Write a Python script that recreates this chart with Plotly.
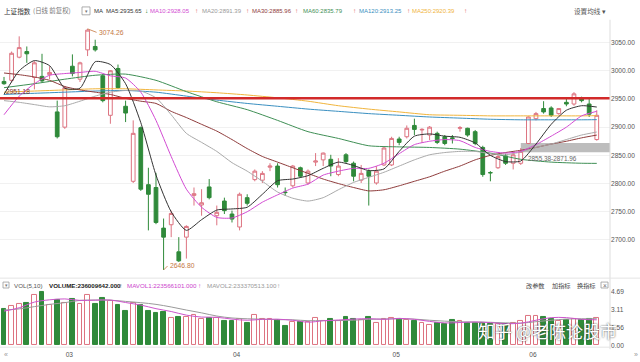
import plotly.graph_objects as go

W, H = 640, 362

# ---------------- data ----------------
idx = list(range(1, 80))
opens = [2981, 2983, 3024, 3034, 2988, 2990, 2993, 2927, 2900, 3008,
         2985, 3037, 3043, 2991, 2921, 3004, 2937, 2804, 2899, 2798,
         2793, 2721, 2727, 2679, 2705, 2779, 2762, 2794, 2743, 2769,
         2746, 2723, 2775, 2807, 2806, 2829, 2831, 2785, 2796, 2828,
         2801, 2838, 2842, 2843, 2816, 2851, 2836, 2806, 2822, 2801,
         2833, 2833, 2879, 2883, 2903, 2895, 2886, 2889, 2883, 2881,
         2898, 2898, 2892, 2864, 2819.5, 2828, 2849, 2836, 2836, 2871,
         2915, 2933, 2934, 2924, 2944, 2941, 2952, 2941, 2878]
highs = [2989, 3034, 3061, 3043, 3017, 3030, 3008, 2947, 2973, 3029,
         3016, 3074.26, 3055, 2994, 3001, 3011, 2947, 2912, 2901, 2828,
         2819, 2738, 2752, 2705, 2726, 2793, 2790, 2808, 2761, 2775,
         2752, 2784, 2781, 2825, 2822, 2836, 2836, 2793, 2833, 2830,
         2825, 2854, 2855, 2851, 2845, 2854, 2839, 2833, 2825, 2831,
         2865, 2883, 2883, 2903, 2915, 2898, 2902, 2892, 2886, 2886,
         2902, 2899, 2895, 2867, 2822, 2851, 2853, 2857, 2863, 2919,
         2927, 2946, 2937, 2934, 2950, 2962, 2954, 2950, 2930]
lows = [2975, 2979, 3022, 3014, 2967, 2979, 2985, 2880, 2897, 2990,
        2980, 3026, 3034, 2944, 2906, 2968, 2909, 2801, 2787, 2717,
        2728, 2646.80, 2705, 2661, 2667, 2761, 2743, 2772, 2726, 2746,
        2731, 2717, 2761, 2804, 2801, 2822, 2793, 2778, 2793, 2810,
        2798, 2831, 2831, 2813, 2813, 2836, 2804, 2801, 2761, 2798,
        2831, 2831, 2868, 2880, 2886, 2872, 2877, 2870, 2868, 2871,
        2892, 2883, 2868, 2812, 2804, 2826, 2833, 2825, 2833, 2870,
        2912, 2924, 2918, 2922, 2937, 2938, 2944, 2918, 2876]
closes = [2977, 3031, 3041, 3030, 3014, 2982, 2997, 2883, 2970, 2995,
          3014, 3072, 3037, 2947, 3000, 2970, 2925, 2889, 2790, 2781,
          2731, 2705, 2747, 2663, 2724, 2782, 2766, 2775, 2749, 2752,
          2737, 2781, 2765, 2822, 2818, 2831, 2798, 2784, 2831, 2813,
          2822, 2840, 2854, 2831, 2831, 2839, 2813, 2818, 2813, 2822,
          2863, 2880, 2873, 2898, 2896, 2896, 2900, 2873, 2871, 2880,
          2899, 2886, 2871, 2816, 2819, 2848, 2836, 2851, 2857, 2918,
          2924, 2927, 2921, 2933, 2941, 2959, 2947, 2923, 2921]
volumes = [3.16, 3.45, 3.60, 3.68, 4.46, 4.69, 3.54, 4.03, 3.68, 4.09,
           3.60, 4.46, 3.65, 4.17, 3.94, 3.54, 3.01, 3.68, 3.54, 3.01,
           2.87, 2.96, 2.43, 2.49, 2.49, 2.67, 2.29, 2.43, 2.38, 2.14,
           2.14, 2.29, 1.94, 2.67, 2.35, 2.29, 2.20, 1.71, 2.06, 2.06,
           2.06, 2.43, 2.14, 2.29, 2.14, 2.49, 2.35, 2.23, 2.49, 2.00,
           2.29, 2.43, 2.35, 2.23, 2.14, 2.00, 1.77, 2.00, 1.85, 2.23,
           2.14, 2.00, 1.94, 2.00, 1.85, 1.85, 1.85, 2.00, 2.14, 2.58,
           2.58, 2.49, 2.35, 2.14, 2.20, 2.35, 2.20, 2.29, 2.36]

ma_fast_idx = list(range(1, 80, 2))
ma5 = [2958, 3000, 3018, 3009, 2969, 2969, 3016, 3011, 2977, 2908,
       2815, 2750, 2717, 2736, 2753, 2755, 2758, 2781, 2805, 2808,
       2814, 2827, 2838, 2832, 2823, 2826, 2857, 2884, 2888, 2884,
       2882, 2872, 2850, 2839, 2840, 2870, 2905, 2930, 2938, 2935.65]
ma10 = [2922, 2955, 2977, 2992, 2995, 2997, 2999, 2991, 2987, 2962,
        2912, 2848, 2790, 2758, 2740, 2739, 2750, 2767, 2780, 2792,
        2799, 2815, 2822, 2827, 2827, 2836, 2853, 2869, 2875, 2878,
        2876, 2864, 2857, 2854, 2857, 2869, 2884, 2900, 2920, 2928.05]
ma20 = [2947, 2944, 2940, 2936, 2938, 2946, 2955, 2962, 2965, 2964,
        2952, 2922, 2889, 2873, 2857, 2837, 2822, 2804, 2785, 2774,
        2769, 2775, 2789, 2802, 2811, 2820, 2831, 2842, 2851, 2855,
        2857, 2857, 2853, 2851, 2856, 2864, 2870, 2878, 2886, 2891.39]
ma30 = [2996, 2993, 2989, 2983, 2972, 2966, 2962, 2958, 2951, 2946,
        2942, 2928, 2917, 2905, 2893, 2878, 2862, 2848, 2838, 2828,
        2818, 2808, 2800, 2793, 2787, 2789, 2796, 2804, 2812, 2822,
        2831, 2842, 2850, 2855, 2859, 2864, 2870, 2875, 2881, 2885.96]
ma_slow_idx = [1, 5, 9, 13, 17, 21, 25, 29, 33, 37, 41, 45, 49, 53, 57, 61, 65, 69, 73, 77, 79]
ma60 = [2970, 2977, 2985, 2992, 2994, 2983, 2963, 2945, 2931, 2912, 2892,
        2880, 2867, 2865, 2864, 2861, 2854, 2843, 2838, 2836, 2835.79]
ma120 = [2958, 2960, 2962, 2964, 2965, 2962, 2955, 2948, 2942, 2937, 2932,
         2928, 2924, 2921, 2918, 2916, 2914, 2913, 2913, 2913, 2913.25]
ma250 = [2962, 2964, 2966, 2968, 2968, 2966, 2964, 2961, 2957, 2952, 2946,
         2938, 2932, 2927, 2922, 2921, 2920, 2920, 2920, 2920, 2920.39]

mavol1 = [3.00, 3.30, 3.80, 4.00, 4.08, 3.95, 3.97, 3.98, 3.76, 3.54,
          3.22, 2.97, 2.65, 2.48, 2.46, 2.30, 2.20, 2.28, 2.29, 2.20,
          2.03, 2.15, 2.22, 2.30, 2.34, 2.28, 2.36, 2.28, 2.10, 1.96,
          2.00, 2.05, 1.99, 1.90, 1.94, 2.20, 2.43, 2.43, 2.28, 2.236]
mavol2 = [3.10, 3.20, 3.40, 3.60, 3.75, 3.95, 3.98, 3.97, 3.86, 3.75,
          3.60, 3.37, 3.10, 2.85, 2.57, 2.40, 2.33, 2.29, 2.25, 2.24,
          2.16, 2.17, 2.17, 2.20, 2.28, 2.31, 2.33, 2.30, 2.20, 2.12,
          2.06, 2.03, 2.02, 1.96, 1.94, 2.07, 2.20, 2.30, 2.33, 2.334]

month_labels = ["03", "04", "05", "06"]
month_first_idx = [9, 31, 52, 70]
price_ticks = [2700, 2750, 2800, 2850, 2900, 2950, 3000, 3050]
vol_ticks = [0.00, 1.56, 3.11, 4.69]

line_price = 2951.18
zone_low, zone_high = 2855.38, 2871.96
zone_start_idx = 69
hi_idx, hi_val = 12, 3074.26
lo_idx, lo_val = 22, 2646.80

# ---------------- style ----------------
UP = "#dd7380"
DN = "#2f8a3a"
C_MA5, C_MA10, C_MA20, C_MA30 = "#333333", "#d24bd2", "#a9a9a9", "#8e3b3b"
C_MA60, C_MA120, C_MA250 = "#3f8f55", "#3a8fc0", "#f0b43c"
LAT = "Liberation Sans, Arial, Noto Sans CJK SC"
CJK = "Noto Sans CJK SC"

def px(x):
    return x / W

def py(y):
    return 1 - y / H

XR = [0.474, 80.74]
PLOT_R = 610

fig = go.Figure()

fig.add_trace(go.Candlestick(
    x=idx, open=opens, high=highs, low=lows, close=closes,
    increasing=dict(line=dict(color=UP, width=1), fillcolor="white"),
    decreasing=dict(line=dict(color=DN, width=1), fillcolor=DN),
    whiskerwidth=0, xaxis="x", yaxis="y", showlegend=False, hoverinfo="skip"))

for xs, ys, col in [(ma_slow_idx, ma250, C_MA250), (ma_slow_idx, ma120, C_MA120),
                    (ma_slow_idx, ma60, C_MA60), (ma_fast_idx, ma30, C_MA30),
                    (ma_fast_idx, ma20, C_MA20), (ma_fast_idx, ma10, C_MA10),
                    (ma_fast_idx, ma5, C_MA5)]:
    fig.add_trace(go.Scatter(x=xs, y=ys, mode="lines",
                             line=dict(color=col, width=1, shape="spline", smoothing=0.6),
                             xaxis="x", yaxis="y", showlegend=False, hoverinfo="skip"))

up_flags = [c >= o for o, c in zip(opens, closes)]
fig.add_trace(go.Bar(
    x=idx, y=volumes, width=0.64,
    marker=dict(color=["white" if u else DN for u in up_flags],
                line=dict(color=[UP if u else DN for u in up_flags], width=1)),
    xaxis="x2", yaxis="y2", showlegend=False, hoverinfo="skip"))
fig.add_trace(go.Scatter(x=ma_fast_idx, y=mavol2, mode="lines",
                         line=dict(color="#9a9a9a", width=1, shape="spline"),
                         xaxis="x2", yaxis="y2", showlegend=False, hoverinfo="skip"))
fig.add_trace(go.Scatter(x=ma_fast_idx, y=mavol1, mode="lines",
                         line=dict(color="#cc55cc", width=1, shape="spline"),
                         xaxis="x2", yaxis="y2", showlegend=False, hoverinfo="skip"))

main_top, main_bot = 18, 275
vol_top, vol_bot = 292, 348
p_top = 2950 + (98.3 - main_top) / 0.572
p_bot = 2950 - (main_bot - 98.3) / 0.572

fig.update_layout(
    width=W, height=H, margin=dict(l=0, r=0, t=0, b=0),
    paper_bgcolor="white", plot_bgcolor="white",
    font=dict(family=LAT, size=7, color="#555"),
    xaxis=dict(domain=[0, px(PLOT_R)], range=XR, showticklabels=False, showgrid=False,
               zeroline=False, rangeslider=dict(visible=False), fixedrange=True),
    yaxis=dict(domain=[py(main_bot), py(main_top)], range=[p_bot, p_top], side="right",
               tickvals=price_ticks, ticktext=[f"{v:.2f}" for v in price_ticks],
               tickfont=dict(size=6.6, color="#555"), gridcolor="#f1f1f1", gridwidth=1,
               zeroline=False, ticks="", ticklen=0, showline=False),
    xaxis2=dict(domain=[0, px(PLOT_R)], range=XR, anchor="y2", matches="x",
                tickvals=[m + 0.6 for m in month_first_idx], ticktext=month_labels,
                tickfont=dict(size=6.6, color="#555"), showgrid=False, zeroline=False,
                ticks="", ticklen=0, ticklabelstandoff=4, showline=False),
    yaxis2=dict(domain=[py(vol_bot), py(vol_top)], range=[0, (vol_bot - vol_top) / 11.5],
                side="right", tickvals=vol_ticks, ticktext=[f"{v:.2f}" for v in vol_ticks],
                tickfont=dict(size=6.6, color="#555"), showgrid=False, zeroline=False,
                ticks="", ticklen=0, anchor="x2"),
    bargap=0,
)

shapes = [
    dict(type="rect", xref="x", yref="y", x0=zone_start_idx, x1=XR[1], y0=zone_low, y1=zone_high,
         fillcolor="#bdbdbd", line=dict(width=0), layer="below"),
    dict(type="line", xref="paper", yref="y", x0=0, x1=px(PLOT_R), y0=line_price, y1=line_price,
         line=dict(color="#d22a2a", width=2.4)),
    dict(type="line", xref="paper", yref="paper", x0=px(PLOT_R), x1=px(PLOT_R), y0=py(352), y1=py(18),
         line=dict(color="#dddddd", width=1)),
    dict(type="line", xref="paper", yref="paper", x0=0, x1=1, y0=py(280), y1=py(280),
         line=dict(color="#e4e4e4", width=1)),
    dict(type="line", xref="paper", yref="paper", x0=0, x1=px(PLOT_R), y0=py(350), y1=py(350),
         line=dict(color="#e4e4e4", width=1)),
    dict(type="rect", xref="paper", yref="paper", x0=px(82), x1=px(90), y0=py(13), y1=py(5),
         line=dict(color="#999", width=0.8)),
    dict(type="rect", xref="paper", yref="paper", x0=px(3), x1=px(9), y0=py(290), y1=py(284),
         line=dict(color="#999", width=0.8)),
    dict(type="rect", xref="paper", yref="paper", x0=px(601), x1=px(608), y0=py(290), y1=py(284),
         line=dict(color="#999", width=0.8)),
]
fig.update_layout(shapes=shapes)

ann = []

def txt(x, y, s, color="#555", size=6.2, family=LAT, anchor="left", **kw):
    ann.append(dict(x=px(x), y=py(y), xref="paper", yref="paper", text=s, showarrow=False,
                    xanchor=anchor, yanchor="middle",
                    font=dict(size=size, color=color, family=family), **kw))

RED_ARROW = "#e06060"
GREEN_ARROW = "#2f8a3a"
hy = 9
txt(2, hy, "上证指数", "#333", 6.6, CJK)
txt(31, hy, "(日线 前复权)", "#777", 6.4, CJK)
txt(86, hy, "▾", "#777", 5, anchor="center")
txt(92, hy, "MA", "#333", 6.0)
heads = [("MA5:2935.65", 104, C_MA5, "↓", 143, GREEN_ARROW),
         ("MA10:2928.05", 148, C_MA10, "↑", 193, RED_ARROW),
         ("MA20:2891.39", 200, "#999", "↑", 244, RED_ARROW),
         ("MA30:2885.96", 250, C_MA30, "↑", 293, RED_ARROW),
         ("MA60:2835.79", 301, C_MA60, "↑", 351, RED_ARROW),
         ("MA120:2913.25", 357, C_MA120, "↑", 405, RED_ARROW),
         ("MA250:2920.39", 410, C_MA250, "↑", 462, RED_ARROW)]
for s, x, c, a, ax_, ac in heads:
    txt(x, hy, s, c, 6.0)
    txt(ax_, hy, a, ac, 6.5)
txt(572, hy, "设置均线 ▾", "#555", 6.6, CJK)

vy = 287
txt(6, vy, "▾", "#777", 5, anchor="center")
txt(12, vy, "VOL(5,10)", "#555")
txt(47, vy, "<b>VOLUME:236009642.000</b>", "#222")
txt(117, vy, "↑", "#333", 6.5)
txt(125, vy, "MAVOL1:223566101.000", "#cc44cc")
txt(196, vy, "↑", "#cc44cc", 6.5)
txt(205, vy, "MAVOL2:233370513.100", "#999")
txt(275, vy, "↑", "#999", 6.5)
txt(524, vy, "改参数", "#444", 6.2, CJK)
txt(550, vy, "加指标", "#444", 6.2, CJK)
txt(575, vy, "换指标", "#444", 6.2, CJK)
txt(604.5, vy, "×", "#666", 6.5, anchor="center")
txt(2, 357, "«", "#999", 7)
txt(632, 357, "»", "#999", 7)

txt(4, 91, "2951.18", "#7a3030", 6.6)
ann.append(dict(x=zone_start_idx + 0.7, y=zone_low, xref="x", yref="y", text="2855.38-2871.96",
                showarrow=False, xanchor="left", yanchor="top", yshift=-1,
                font=dict(size=6.4, color="#666", family=LAT)))
ann.append(dict(x=hi_idx, y=hi_val, xref="x", yref="y", text=f"{hi_val:.2f}", showarrow=True,
                arrowhead=0, arrowwidth=0.8, arrowcolor="#c4773f", ax=9, ay=3.5,
                xanchor="left", yanchor="middle", font=dict(size=6.8, color="#c4773f", family=LAT)))
ann.append(dict(x=lo_idx, y=lo_val, xref="x", yref="y", text=f"{lo_val:.2f}", showarrow=True,
                arrowhead=0, arrowwidth=0.8, arrowcolor="#c4773f", ax=4, ay=-4,
                xanchor="left", yanchor="middle", font=dict(size=6.8, color="#c4773f", family=LAT)))

ann.append(dict(x=px(547), y=py(333), xref="paper", yref="paper", text="知乎 @老陈论股市",
                showarrow=False, xanchor="center", yanchor="middle",
                font=dict(size=17, color="white", family=CJK,
                          shadow="0px 0px 2px #333")))

fig.update_layout(annotations=ann)
fig.write_html("out.html", config={"displayModeBar": False},
               post_script="document.body.style.margin='0';")
